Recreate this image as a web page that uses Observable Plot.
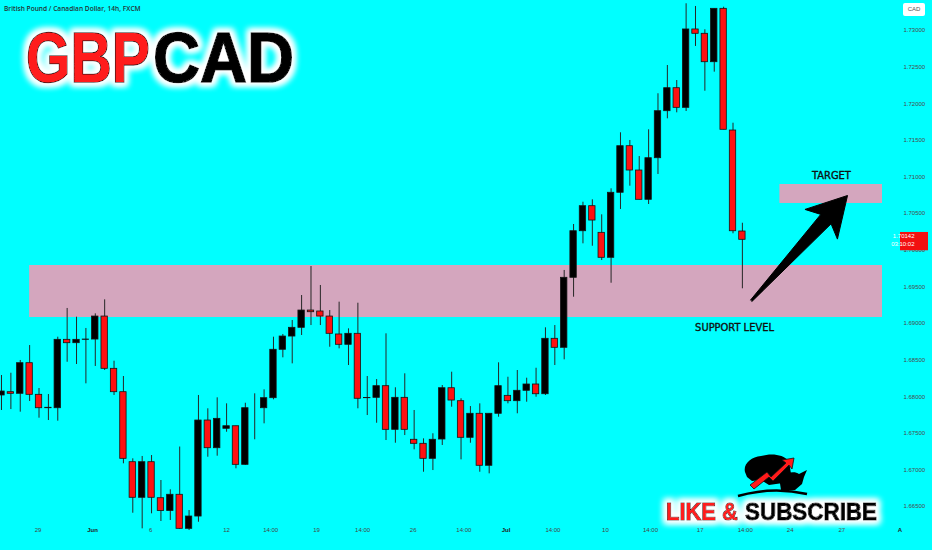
<!DOCTYPE html>
<html>
<head>
<meta charset="utf-8">
<script src="https://cdn.jsdelivr.net/npm/d3@7"></script>
<script src="https://cdn.jsdelivr.net/npm/@observablehq/plot@0.6"></script>
<style>
html,body{margin:0;padding:0;background:#00ffff;}
#wrap{position:relative;width:932px;height:550px;overflow:hidden;background:#00ffff;}
#wrap > svg{position:absolute;left:0;top:0;}
#cad{position:absolute;left:903px;top:3px;width:22px;height:13px;background:#fff;border-radius:2px;
 font:6px "Liberation Sans",Arial,sans-serif;color:#555;text-align:center;line-height:13px;}
</style>
</head>
<body>
<div id="wrap"></div>
<script>
// ---- data ----
const open = [1.68016,1.68061,1.68039,1.68457,1.68025,1.67842,1.67842,1.68776,1.68730,1.68776,
1.68780,1.69094,1.68380,1.68061,1.67105,1.66619,1.67105,1.66613,1.66438,1.66660,
1.66195,1.66363,1.67674,1.67296,1.67561,1.67596,1.67069,1.67842,1.67842,1.67979,
1.68640,1.68821,1.68940,1.69176,1.69163,1.69094,1.68849,1.68708,1.68858,1.67979,
1.67984,1.68143,1.67547,1.67984,1.67411,1.67356,1.67151,1.67415,1.68115,1.67938,
1.67438,1.67766,1.67056,1.67766,1.68011,1.67938,1.68080,1.68166,1.68033,1.68790,
1.68667,1.69623,1.70259,1.70601,1.70237,1.69896,1.70784,1.71420,1.71088,1.70688,
1.71256,1.71898,1.72212,1.71944,1.73014,1.72955,1.72567,1.73296,1.71634,1.70255];
const high = [1.68289,1.68320,1.68494,1.68698,1.68111,1.68029,1.68812,1.69204,1.69085,1.68931,
1.69131,1.69322,1.68484,1.68275,1.67151,1.67183,1.67196,1.66855,1.66728,1.67312,
1.66445,1.68016,1.67834,1.67984,1.67902,1.67596,1.67910,1.68039,1.68093,1.68812,
1.68849,1.69040,1.69381,1.69777,1.69518,1.69176,1.69290,1.68926,1.69276,1.68275,
1.68234,1.68858,1.68121,1.68312,1.67811,1.67424,1.67493,1.68152,1.68334,1.67971,
1.67865,1.67902,1.67770,1.68462,1.68265,1.68357,1.68252,1.68388,1.68940,1.68971,
1.69723,1.70351,1.70655,1.70688,1.70483,1.70838,1.71603,1.71498,1.71279,1.71644,
1.72136,1.72522,1.72317,1.73365,1.73328,1.73010,1.73296,1.73318,1.71734,1.70368];
const low = [1.67811,1.67824,1.67788,1.67934,1.67706,1.67674,1.67665,1.68470,1.68439,1.68175,
1.68412,1.68357,1.68016,1.67083,1.66408,1.66195,1.66400,1.66295,1.66309,1.66186,
1.66172,1.66285,1.67173,1.67187,1.67514,1.67015,1.67060,1.67411,1.67629,1.67957,
1.68530,1.68448,1.68835,1.68971,1.68971,1.68675,1.68653,1.68425,1.67834,1.67742,
1.67637,1.67401,1.67364,1.67469,1.67274,1.66968,1.66991,1.67333,1.67856,1.67137,
1.67364,1.66968,1.66946,1.67719,1.67902,1.67766,1.67924,1.67992,1.68016,1.68425,
1.68503,1.69358,1.70087,1.70054,1.69859,1.69549,1.70556,1.70874,1.70688,1.70624,
1.71034,1.71794,1.71876,1.71894,1.72782,1.72171,1.72431,1.71644,1.70224,1.69473];
const close = [1.68070,1.68039,1.68457,1.68025,1.67842,1.67848,1.68776,1.68730,1.68776,1.68780,
1.69094,1.68380,1.68061,1.67151,1.66619,1.67105,1.66619,1.66438,1.66660,1.66195,
1.66363,1.67674,1.67296,1.67697,1.67596,1.67069,1.67842,1.67842,1.67979,1.68640,
1.68821,1.68940,1.69176,1.69153,1.69094,1.68858,1.68708,1.68858,1.67971,1.67982,
1.68143,1.67547,1.67984,1.67547,1.67356,1.67151,1.67411,1.68115,1.67947,1.67438,
1.67766,1.67056,1.67766,1.68143,1.67938,1.68080,1.68166,1.68033,1.68790,1.68667,
1.69623,1.70259,1.70601,1.70405,1.69896,1.70784,1.71420,1.71088,1.70688,1.71256,
1.71898,1.72212,1.71944,1.73014,1.72955,1.72567,1.73296,1.71644,1.70259,1.70142];

const xTickPos    = [3.9, 9.7, 15.9, 24.0, 28.7, 33.6, 38.5, 43.9, 49.3, 53.8, 58.8, 64.4, 69.2, 74.5, 79.3, 84.1, 89.6, 95.8];
const xTickLabels = ["29","Jun","6","12","14:00","19","14:00","26","14:00","Jul","14:00","10","14:00","17","14:00","24","27","A"];
const xTickBold   = ["Jun","Jul","A"];
const yTicks = [1.665,1.670,1.675,1.680,1.685,1.690,1.695,1.700,1.705,1.710,1.715,1.720,1.725,1.730];
const zoneFrom   = [3, 83];
const zoneTop    = [1.69791, 1.70897];
const zoneBottom = [1.69081, 1.70638];
const arrowFrom = {i: 79.97, p: 1.69313};
const arrowTo   = {i: 90.21, p: 1.70747};
const notes = [
  {text: "TARGET", i: 88.5, p: 1.71027},
  {text: "SUPPORT LEVEL", i: 78.16, p: 1.68951}
];
const lastPrice = "1.70142", countdown = "03:10:02";

// ---- layout ----
const W = 932, H = 550, mR = 50, mB = 30;
const xDomain = [-0.1066, 93.94];
const yDomain = [1.663088, 1.734097];
const pxPerIdx = (W - mR) / (xDomain[1] - xDomain[0]);

const idx = d3.range(open.length);
const up = i => close[i] >= open[i];
const zones = zoneFrom.map((f, k) => ({from: f, top: zoneTop[k], bottom: zoneBottom[k]}));

function arrowPolygon(from, to) {
  const kx = pxPerIdx, ky = (H - mB) / (yDomain[1] - yDomain[0]);
  const T = [from.i * kx, -from.p * ky], P = [to.i * kx, -to.p * ky];
  const dx = P[0] - T[0], dy = P[1] - T[1], L = Math.hypot(dx, dy);
  const u = [dx / L, dy / L], n = [-u[1], u[0]];
  const pt = (b, a, c) => [b[0] + u[0] * a + n[0] * c, b[1] + u[1] * a + n[1] * c];
  const B = pt(P, -38, 0);
  const pts = [pt(T, 0, 1), pt(B, 6, 7), pt(B, -1, 22), P, pt(B, -1, -22), pt(B, 6, -7), pt(T, 0, -1)];
  return pts.map(([a, b]) => ({i: a / kx, p: -b / ky}));
}

const tagHalf = 0.00125;
const lc = close[close.length - 1];
const tickData = xTickPos.map((x, k) => ({x, label: xTickLabels[k]}));

const chart = Plot.plot({
  width: W, height: H,
  marginLeft: 0, marginRight: mR, marginTop: 0, marginBottom: mB,
  style: {background: "transparent", overflow: "visible"},
  x: {type: "linear", domain: xDomain, axis: null},
  y: {type: "linear", domain: yDomain, axis: null},
  marks: [
    Plot.rect(zones, {x1: "from", x2: () => xDomain[1], y1: "bottom", y2: "top", fill: "#d4a6be"}),
    Plot.ruleX(idx, {x: i => i, y1: i => low[i], y2: i => high[i], stroke: "#262626", strokeWidth: 1}),
    Plot.rect(idx, {x1: i => i - 0.34, x2: i => i + 0.34, y1: i => open[i], y2: i => close[i],
      fill: i => up(i) ? "#000000" : "#ff1010", stroke: "#141414", strokeWidth: 0.8}),
    Plot.line(arrowPolygon(arrowFrom, arrowTo), {x: "i", y: "p", fill: "#000", stroke: "#000", strokeWidth: 1, curve: "linear-closed"}),
    Plot.text(notes, {x: "i", y: "p", text: "text", fontSize: 11, fill: "#101010", stroke: "#101010", strokeWidth: 0.35,
      fontFamily: "'Liberation Sans Narrow','DejaVu Sans Condensed',sans-serif"}),
    Plot.text(yTicks, {y: d => d, text: d3.format(".5f"), frameAnchor: "right", dx: 21, textAnchor: "start",
      fontSize: 6, fill: "#4a4a4a", fontFamily: "'Liberation Sans',Arial,sans-serif"}),
    Plot.rect([lc], {x1: () => xDomain[1] + 18 / pxPerIdx, x2: () => xDomain[1] + 46 / pxPerIdx,
      y1: d => d + tagHalf * 0.8, y2: d => d - tagHalf * 1.2, fill: "#f21010"}),
    Plot.text([lc], {y: d => d, text: () => lastPrice, frameAnchor: "right", dx: 32, dy: -3.5, fontSize: 6, fill: "#fff",
      fontFamily: "'Liberation Sans',Arial,sans-serif"}),
    Plot.text([lc], {y: d => d, text: () => countdown, frameAnchor: "right", dx: 32, dy: 4.5, fontSize: 6, fill: "#fff",
      fontFamily: "'Liberation Sans',Arial,sans-serif"}),
    Plot.text(tickData.filter(d => !xTickBold.includes(d.label)), {x: "x", text: "label", frameAnchor: "bottom", dy: 11,
      fontSize: 6, fill: "#444", fontFamily: "'Liberation Sans',Arial,sans-serif"}),
    Plot.text(tickData.filter(d => xTickBold.includes(d.label)), {x: "x", text: "label", frameAnchor: "bottom", dy: 11,
      fontSize: 6, fontWeight: "bold", fill: "#222", fontFamily: "'Liberation Sans',Arial,sans-serif"})
  ]
});

const wrap = document.getElementById("wrap");
wrap.appendChild(chart);

const overlay = `
<svg width="932" height="550" xmlns="http://www.w3.org/2000/svg" style="pointer-events:none">
 <defs>
  <filter id="glow" x="-15%" y="-40%" width="130%" height="180%">
   <feMorphology in="SourceAlpha" operator="dilate" radius="2.5" result="d"/>
   <feGaussianBlur in="d" stdDeviation="3" result="b"/>
   <feFlood flood-color="#ffffff"/>
   <feComposite in2="b" operator="in" result="g"/>
   <feMerge><feMergeNode in="g"/><feMergeNode in="g"/><feMergeNode in="SourceGraphic"/></feMerge>
  </filter>
 </defs>
 <text x="4" y="11" font-family="'Open Sans',sans-serif" font-weight="600" font-size="6.6" fill="#233333">British Pound / Canadian Dollar, 14h, FXCM</text>
 <g font-family="'Liberation Sans',Arial,sans-serif" font-weight="bold" stroke="#1a1a1a" paint-order="stroke" filter="url(#glow)">
  <text transform="translate(26,82) scale(0.817,1)" font-size="70" stroke-width="1.6" fill="#ff1a1a">GBP</text>
  <text transform="translate(153,82) scale(0.93,1)" font-size="70" stroke-width="1.6" fill="#000">CAD</text>
  <text transform="translate(666,520) scale(0.955,1)" font-size="23" stroke-width="1" fill="#ff1a1a">LIKE &amp;</text>
  <text transform="translate(745,520) scale(0.975,1)" font-size="23" stroke-width="1" fill="#000">SUBSCRIBE</text>
 </g>
 <g transform="translate(737,450)">
  <path d="M8,22 C6,14 14,7 24,6 C34,3 46,4 52,11 L54,24 L46,33 L32,35 L24,30 L15,31 L10,27 Z" fill="#000"/>
  <path d="M42,27 C50,22 58,21 62,24 L70,20 L67,27 L65,34 L58,40 L44,40 Z" fill="#000"/>
  <path d="M13,35 L30,22 L34,27 L49,13 L45,10 L57,8 L55,19 L52,15 L36,31 L32,27 L17,39 Z" fill="#ff1a1a" stroke="#111" stroke-width="0.8"/>
  <path d="M1,46 Q36,36 70,44" stroke="#000" stroke-width="2.5" fill="none"/>
 </g>
</svg>`;
wrap.insertAdjacentHTML("beforeend", overlay);
const cad = document.createElement("div");
cad.id = "cad"; cad.textContent = "CAD";
wrap.appendChild(cad);
</script>
</body>
</html>
